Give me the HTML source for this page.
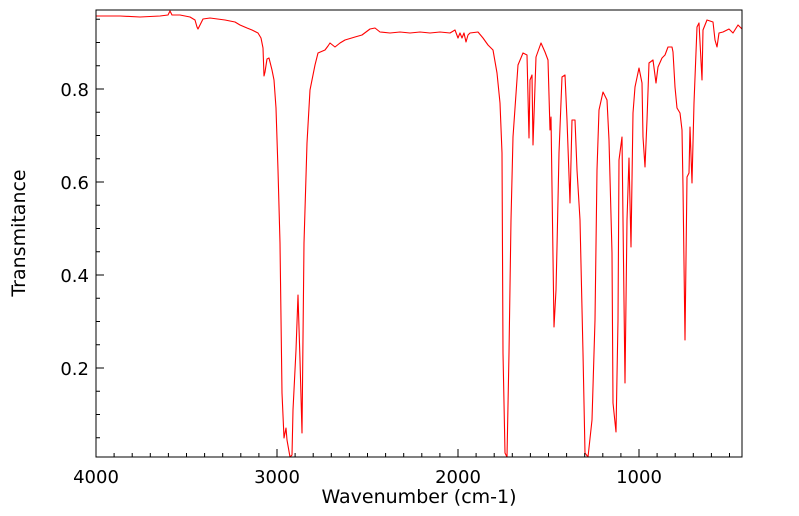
<!DOCTYPE html>
<html><head><meta charset="utf-8"><style>
html,body{margin:0;padding:0;background:#fff;}
svg{display:block;font-family:"DejaVu Sans","Liberation Sans",sans-serif;}
</style></head><body>
<svg width="799" height="516" viewBox="0 0 799 516" xmlns="http://www.w3.org/2000/svg">
<rect width="799" height="516" fill="#fff"/>
<defs><clipPath id="c"><rect x="96" y="10" width="646" height="447"/></clipPath></defs>
<g clip-path="url(#c)">
<polyline fill="none" stroke="#ff0000" stroke-width="1.1" stroke-linejoin="round" points="
96,16 120,16 140,17 160,16 168,15 170,11 172,15 180,15 190,17 195,20 197,27 198,29 200,25 203,19 210,18 225,20 235,22 240,25 247,28 252,30 258,33 261,38 263,48 264,76 265,72 267,59 269,58 272,70 274,80 276,108 278,170 280,243 282,393 284,438 286,428 287,440 290,457 292,455 293,410 296,350 298,295 300,360 302,433 304,243 307,143 310,90 315,65 318,53 325,50 328,46 330,43 335,47 340,43 345,40 355,37 362,35 370,29 375,28 380,32 390,33 400,32 410,33 420,32 430,33 440,32 450,33 455,30 458,38 460,33 462,38 464,33 466,42 468,35 470,33 478,32 483,38 488,45 493,50 497,73 500,103 502,153 503,353 505,453 507,457 509,353 511,220 513,137 518,65 523,53 527,55 529,138 530,80 532,75 533,145 536,57 541,43 545,52 548,60 550,130 551,117 552,187 554,327 556,290 557,247 559,153 562,77 565,75 567,120 570,203 572,120 575,120 577,170 580,220 583,353 585,453 588,457 592,420 595,320 597,170 599,110 603,92 607,100 609,140 612,253 613,403 616,432 618,320 619,160 622,137 623,220 625,383 627,220 629,158 631,247 633,113 635,87 639,68 642,83 643,137 645,167 647,120 649,63 653,60 656,83 658,67 662,58 665,55 668,47 672,47 673,52 675,87 677,108 680,113 682,130 683,187 685,340 687,177 689,173 690,127 692,183 694,103 697,27 699,23 702,80 703,30 707,20 713,22 715,40 717,47 719,33 723,32 729,29 733,33 738,25 743,30"/>
</g>
<rect x="96" y="10" width="646" height="447" fill="none" stroke="#000" stroke-width="1"/>
<g stroke="#000" stroke-width="1">
<path d="M96,457v-8M277,457v-8M458,457v-8M639,457v-8"/>
<path d="M114.1,457v-4M132.2,457v-4M150.3,457v-4M168.4,457v-4M186.5,457v-4M204.6,457v-4M222.7,457v-4M240.8,457v-4M258.9,457v-4
M295.1,457v-4M313.2,457v-4M331.3,457v-4M349.4,457v-4M367.5,457v-4M385.6,457v-4M403.7,457v-4M421.8,457v-4M439.9,457v-4
M476.1,457v-4M494.2,457v-4M512.3,457v-4M530.4,457v-4M548.5,457v-4M566.6,457v-4M584.7,457v-4M602.8,457v-4M620.9,457v-4
M657.1,457v-4M675.2,457v-4M693.3,457v-4M711.4,457v-4M729.5,457v-4"/>
<path d="M96,368h8M96,275h8M96,182h8M96,89h8"/>
<path d="M96,437.8h4M96,414.5h4M96,391.3h4M96,344.8h4M96,321.5h4M96,298.3h4M96,251.8h4M96,228.5h4M96,205.3h4M96,158.8h4M96,135.5h4M96,112.3h4M96,65.8h4M96,42.5h4M96,19.3h4"/>
</g>
<g font-size="18" fill="#000" text-anchor="middle">
<text x="96" y="483">4000</text>
<text x="277" y="483">3000</text>
<text x="458" y="483">2000</text>
<text x="639" y="483">1000</text>
</g>
<g font-size="18" fill="#000" text-anchor="end">
<text x="89" y="375">0.2</text>
<text x="89" y="282">0.4</text>
<text x="89" y="189">0.6</text>
<text x="89" y="96">0.8</text>
</g>
<text x="419" y="503" font-size="19" text-anchor="middle">Wavenumber (cm-1)</text>
<text transform="translate(25,233) rotate(-90)" font-size="19" text-anchor="middle">Transmitance</text>
</svg>
</body></html>
